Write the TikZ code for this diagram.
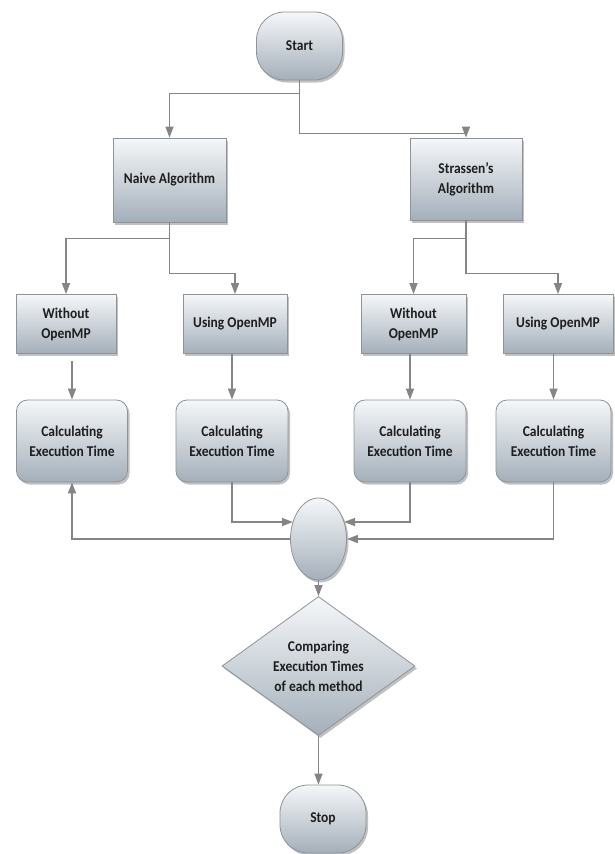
\documentclass[tikz,border=0pt]{standalone}
\usepackage{fontspec}
\setmainfont{Carlito}[FakeStretch=0.9]
\usetikzlibrary{arrows.meta,shapes.geometric,shadows,calc}
\definecolor{boxtop}{HTML}{F5F7F9}
\definecolor{boxbot}{HTML}{A4AFBA}
\definecolor{boxline}{HTML}{8E9398}
\definecolor{conn}{HTML}{858585}
\definecolor{txt}{HTML}{1E1E1E}
\tikzset{
  base/.style={draw=boxline, line width=0.8pt, top color=boxtop, bottom color=boxbot,
    drop shadow={shadow xshift=2pt, shadow yshift=-2.5pt, opacity=0.35, fill=black!70},
    align=center, text=txt, font=\bfseries\fontsize{15}{20}\selectfont, inner sep=2pt},
  sqbox/.style={base, rectangle},
  rbox/.style={base, rectangle, rounded corners=11pt},
  term/.style={base, rectangle, rounded corners=28pt, minimum width=86pt, minimum height=68pt},
  arr/.style={draw=conn, line width=1.4pt, -{Triangle[length=11pt,width=8pt]}},
}
\begin{document}
\begin{tikzpicture}[x=1pt,y=-1pt]
\useasboundingbox (0,0) rectangle (614,854);
\node[term] (start) at (299.5,46) {Start};
\node[sqbox, minimum width=113pt, minimum height=84pt] (naive) at (169.5,180) {Naive Algorithm};
\node[sqbox, minimum width=112pt, minimum height=82pt] (stras) at (466,179) {Strassen's\\Algorithm};
\node[sqbox, minimum width=100pt, minimum height=59pt] (wo1) at (66,324) {Without\\OpenMP};
\node[sqbox, minimum width=104pt, minimum height=59pt] (us1) at (235,324) {Using OpenMP};
\node[sqbox, minimum width=105pt, minimum height=59pt] (wo2) at (413.5,324) {Without\\OpenMP};
\node[sqbox, minimum width=110pt, minimum height=59pt] (us2) at (558,324) {Using OpenMP};
\node[rbox, minimum width=111pt, minimum height=82pt] (c1) at (72,441) {Calculating\\Execution Time};
\node[rbox, minimum width=112pt, minimum height=82pt] (c2) at (232,441) {Calculating\\Execution Time};
\node[rbox, minimum width=112pt, minimum height=82pt] (c3) at (410,441) {Calculating\\Execution Time};
\node[rbox, minimum width=115pt, minimum height=82pt] (c4) at (553.5,441) {Calculating\\Execution Time};
\node[base, ellipse, minimum width=56pt, minimum height=82pt, inner sep=0pt] (ell) at (318.5,539) {};
\node[base, diamond, minimum width=193pt, minimum height=139pt, inner sep=0pt, aspect=1.39] (dia) at (318.5,666) {Comparing\\Execution Times\\of each method};
\node[term] (stop) at (323,819) {Stop};
\coordinate (ellL) at ($(ell.center)+(-25.5,-17)$);
\coordinate (ellR) at ($(ell.center)+(25.5,-17)$);
% connectors
\draw[arr] (start.south) -- ++(0,13) -| (naive.north);
\draw[arr] (start.south) -- ++(0,53) -| (stras.north);
\draw[arr] (naive.south) -- ++(0,16) -| (wo1.north);
\draw[arr] (naive.south) -- ++(0,51) -| (us1.north);
\draw[arr] (stras.south) -- ++(0,18) -| (wo2.north);
\draw[arr] (stras.south) -- ++(0,53) -| (us2.north);
\draw[arr] ([yshift=-7pt]c1.north |- wo1.south) -- (c1.north);
\draw[arr] (c2.north |- us1.south) -- (c2.north);
\draw[arr] (c3.north |- wo2.south) -- (c3.north);
\draw[arr] (c4.north |- us2.south) -- (c4.north);
\draw[arr] (c2.south) |- (ellL);
\draw[arr] (c3.south) |- (ellR);
\draw[arr] (c4.south) |- (ell.east);
\draw[arr] (ell.west) -| (c1.south);
\draw[arr] (ell.south) -- (dia.north);
\draw[arr] (dia.south) -- (dia.south |- stop.north);
\end{tikzpicture}
\end{document}
